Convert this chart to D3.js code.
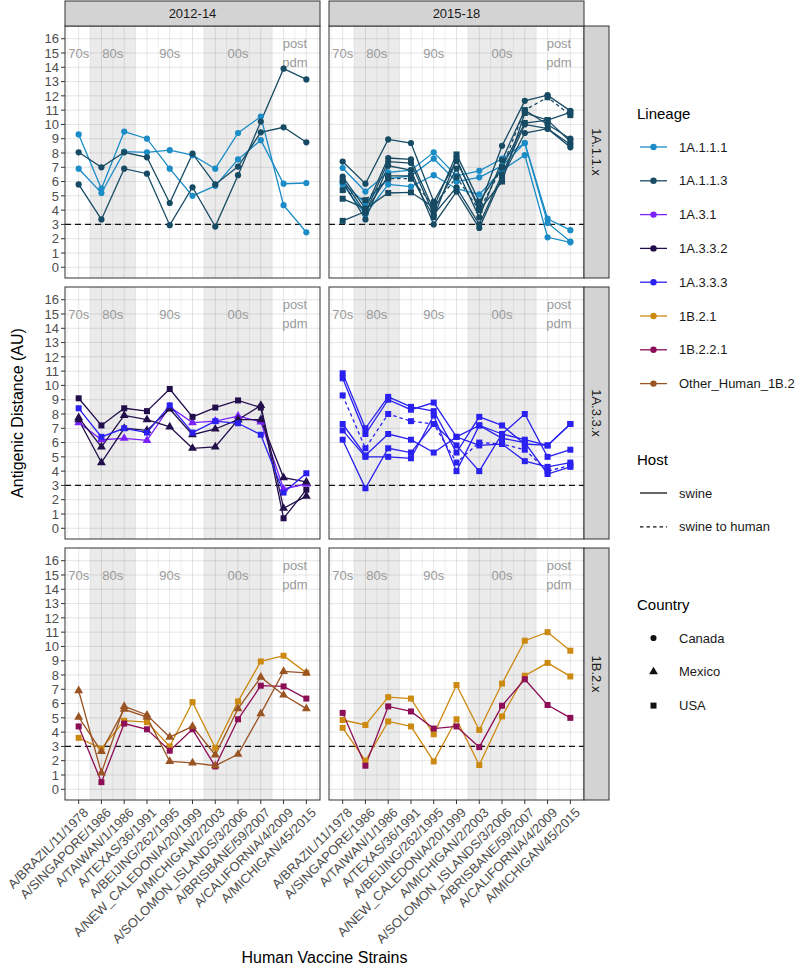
<!DOCTYPE html>
<html>
<head>
<meta charset="utf-8">
<script src="https://cdn.jsdelivr.net/npm/d3@7"></script>
<style>
  body { margin: 0; background: #fff; }
  svg { font-family: "Liberation Sans", Arial, sans-serif; }
</style>
</head>
<body>
<div id="chart"></div>
<script>
// Categories (x axis)
const strains = ["A/BRAZIL/11/1978", "A/SINGAPORE/1986", "A/TAIWAN/1/1986", "A/TEXAS/36/1991",
  "A/BEIJING/262/1995", "A/NEW_CALEDONIA/20/1999", "A/MICHIGAN/2/2003", "A/SOLOMON_ISLANDS/3/2006",
  "A/BRISBANE/59/2007", "A/CALIFORNIA/4/2009", "A/MICHIGAN/45/2015"];
const periods = ["2012-14", "2015-18"];
const clades = ["1A.1.1.x", "1A.3.3.x", "1B.2.x"];
const yTicks = d3.range(0, 17);

// decade labels: position in category index units
const decadeLabels = ["70s", "80s", "90s", "00s", "post\npdm"];
const decadePos = [0, 1.5, 4, 7, 9.5];
// shaded decade bands (index units)
const bandStart = [0.5, 5.5];
const bandEnd = [2.5, 8.5];

const lineages = ["1A.1.1.1", "1A.1.1.3", "1A.3.1", "1A.3.3.2", "1A.3.3.3", "1B.2.1", "1B.2.2.1", "Other_Human_1B.2"];
const lineageColors = ["#1b8cc6", "#174b64", "#7b22fb", "#220e4b", "#2a20f0", "#cc8a12", "#8c0e56", "#9a5424"];
const hosts = ["swine", "swine to human"];
const countries = ["Canada", "Mexico", "USA"];

// 2012-14, 1A.1.1.x
const a_111_can1 = [9.3, 5.5, 9.5, 9.0, 6.9, 5.0, 5.7, 7.55, 8.9, 5.85, 5.9];
const a_111_can2 = [6.9, 5.2, 8.1, 8.05, 8.2, 7.85, 6.9, 9.4, 10.55, 4.35, 2.45];
const a_113_can1 = [8.05, 7.0, 8.05, 7.7, 4.5, 7.95, 5.8, 7.05, 9.45, 9.8, 8.75];
const a_113_can2 = [5.8, 3.35, 6.9, 6.55, 2.95, 5.6, 2.85, 6.45, 10.2, 13.9, 13.15];
// 2015-18, 1A.1.1.x
const b_111_can1 = [6.95, 5.3, 6.65, 6.8, 8.05, 6.4, 6.75, 7.6, 8.7, 3.4, 2.6];
const b_111_can2 = [5.9, 4.5, 6.2, 6.4, 7.6, 6.0, 6.3, 7.1, 8.7, 3.1, 1.8];
const b_111_can3 = [5.8, 3.7, 5.8, 5.65, 6.45, 5.5, 5.1, 6.8, 7.85, 2.1, 1.75];
const b_113_can1 = [7.4, 5.85, 8.95, 8.7, 4.6, 7.45, 4.2, 8.5, 11.65, 12.05, 10.95];
const b_113_can2 = [6.35, 4.1, 7.65, 7.55, 4.0, 6.9, 3.5, 7.5, 11.0, 10.0, 9.0];
const b_113_can3 = [6.15, 3.8, 7.4, 7.3, 3.7, 5.6, 3.0, 6.5, 10.0, 9.7, 8.6];
const b_113_can4 = [6.0, 3.35, 7.1, 6.8, 3.0, 5.3, 2.75, 6.3, 9.4, 9.7, 8.4];
const b_113_usa1 = [4.8, 4.1, 5.2, 5.25, 4.2, 7.9, 4.6, 7.0, 10.1, 10.3, 8.8];
const b_113_usa2 = [3.25, 3.9, 6.4, 6.4, 3.5, 7.6, 4.0, 6.0, 10.8, 10.3, 10.85];
const b_113_usa_h = [5.4, 4.7, 6.2, 6.2, 4.3, 6.3, 4.0, 7.0, 11.0, 11.9, 10.65];
// 2012-14, 1A.3.3.x
const c_31_mex = [7.4, 6.2, 6.3, 6.15, 8.5, 7.4, 7.5, 7.85, 7.45, 2.75, 3.1];
const c_332_usa = [9.1, 7.2, 8.4, 8.2, 9.75, 7.8, 8.45, 8.95, 8.45, 0.7, 2.7];
const c_332_mex1 = [7.75, 5.7, 7.9, 7.6, 7.1, 5.6, 5.7, 7.6, 8.6, 1.4, 2.25];
const c_332_mex2 = [7.6, 4.6, 7.0, 6.85, 8.35, 6.55, 6.95, 7.6, 7.6, 3.55, 3.25];
const c_333_usa = [8.4, 6.4, 7.0, 6.7, 8.6, 6.7, 7.5, 7.35, 6.55, 2.5, 3.85];
// 2015-18, 1A.3.3.x
const d_333_usa1 = [10.85, 7.0, 9.2, 8.5, 8.2, 5.3, 7.8, 7.2, 5.9, 5.8, 7.3];
const d_333_usa2 = [10.5, 6.6, 9.0, 8.3, 8.8, 6.4, 7.2, 6.6, 6.2, 5.8, 7.3];
const d_333_usa_h = [9.3, 5.6, 8.0, 7.5, 7.3, 4.6, 6.0, 5.9, 5.5, 4.0, 4.4];
const d_333_usa3 = [7.3, 5.1, 6.6, 6.2, 5.3, 6.4, 5.8, 5.9, 4.7, 4.3, 4.6];
const d_333_usa4 = [6.85, 5.0, 5.0, 4.9, 7.9, 4.0, 7.2, 6.3, 6.0, 3.8, 4.3];
const d_333_usa5 = [6.2, 2.8, 5.6, 5.3, 7.3, 5.8, 4.0, 6.6, 8.0, 5.0, 5.5];
// 2012-14, 1B.2.x
const e_21_usa = [3.6, 2.85, 4.8, 4.7, 3.0, 6.1, 2.9, 6.15, 8.95, 9.35, 8.15];
const e_221_usa = [4.4, 0.5, 4.6, 4.2, 2.7, 4.2, 1.6, 4.9, 7.25, 7.2, 6.35];
const e_oth_mex1 = [6.9, 1.15, 5.8, 5.2, 3.65, 4.4, 2.4, 5.65, 7.85, 6.6, 5.65];
const e_oth_mex2 = [5.05, 2.65, 5.6, 5.05, 1.95, 1.85, 1.65, 2.45, 5.3, 8.25, 8.15];
// 2015-18, 1B.2.x
const f_21_usa1 = [4.85, 4.5, 6.45, 6.35, 3.85, 7.3, 4.15, 7.4, 10.4, 11.0, 9.7];
const f_21_usa2 = [4.3, 2.0, 4.75, 4.4, 1.95, 4.9, 1.7, 5.1, 7.95, 8.85, 7.9];
const f_221_usa = [5.35, 1.65, 5.8, 5.45, 4.25, 4.4, 2.95, 5.85, 7.7, 5.9, 5.0];

// [period, clade, lineage, host, country, values]
const series = [
  [0, 0, "1A.1.1.1", "swine", "Canada", a_111_can1],
  [0, 0, "1A.1.1.1", "swine", "Canada", a_111_can2],
  [0, 0, "1A.1.1.3", "swine", "Canada", a_113_can1],
  [0, 0, "1A.1.1.3", "swine", "Canada", a_113_can2],
  [1, 0, "1A.1.1.1", "swine", "Canada", b_111_can1],
  [1, 0, "1A.1.1.1", "swine", "Canada", b_111_can2],
  [1, 0, "1A.1.1.1", "swine", "Canada", b_111_can3],
  [1, 0, "1A.1.1.3", "swine", "Canada", b_113_can1],
  [1, 0, "1A.1.1.3", "swine", "Canada", b_113_can2],
  [1, 0, "1A.1.1.3", "swine", "Canada", b_113_can3],
  [1, 0, "1A.1.1.3", "swine", "Canada", b_113_can4],
  [1, 0, "1A.1.1.3", "swine", "USA", b_113_usa1],
  [1, 0, "1A.1.1.3", "swine", "USA", b_113_usa2],
  [1, 0, "1A.1.1.3", "swine to human", "USA", b_113_usa_h],
  [0, 1, "1A.3.1", "swine", "Mexico", c_31_mex],
  [0, 1, "1A.3.3.2", "swine", "USA", c_332_usa],
  [0, 1, "1A.3.3.2", "swine", "Mexico", c_332_mex1],
  [0, 1, "1A.3.3.2", "swine", "Mexico", c_332_mex2],
  [0, 1, "1A.3.3.3", "swine", "USA", c_333_usa],
  [1, 1, "1A.3.3.3", "swine", "USA", d_333_usa1],
  [1, 1, "1A.3.3.3", "swine", "USA", d_333_usa2],
  [1, 1, "1A.3.3.3", "swine to human", "USA", d_333_usa_h],
  [1, 1, "1A.3.3.3", "swine", "USA", d_333_usa3],
  [1, 1, "1A.3.3.3", "swine", "USA", d_333_usa4],
  [1, 1, "1A.3.3.3", "swine", "USA", d_333_usa5],
  [0, 2, "1B.2.1", "swine", "USA", e_21_usa],
  [0, 2, "1B.2.2.1", "swine", "USA", e_221_usa],
  [0, 2, "Other_Human_1B.2", "swine", "Mexico", e_oth_mex1],
  [0, 2, "Other_Human_1B.2", "swine", "Mexico", e_oth_mex2],
  [1, 2, "1B.2.1", "swine", "USA", f_21_usa1],
  [1, 2, "1B.2.1", "swine", "USA", f_21_usa2],
  [1, 2, "1B.2.2.1", "swine", "USA", f_221_usa],
];

// Layout
const svgWidth = 800, svgHeight = 973;
const colX = [[65, 320], [329, 584]];
const rowY = [[26, 278], [287, 539], [548, 800]];
const stripH = 25, stripW = 25;

const svg = d3.select("#chart").append("svg")
  .attr("width", svgWidth).attr("height", svgHeight);

const color = d3.scaleOrdinal().domain(lineages).range(lineageColors);
const shape = d3.scaleOrdinal().domain(countries)
  .range([d3.symbolCircle, d3.symbolTriangle, d3.symbolSquare]);
const shapeSize = { Canada: 30, Mexico: 34, USA: 36 };
const dash = d3.scaleOrdinal().domain(hosts).range(["none", "3.5,3"]);

const lineGen = d3.line();

periods.forEach((p, pi) => {
  const x = d3.scalePoint().domain(strains).range(colX[pi]).padding(0.6);
  const step = x.step();
  const xi = i => x(strains[0]) + i * step;

  clades.forEach((c, ci) => {
    const y = d3.scaleLinear().domain([-0.75, 16.89]).range([rowY[ci][1], rowY[ci][0]]);
    const g = svg.append("g");
    const [x0, x1] = colX[pi];
    const [y0, y1] = rowY[ci];

    g.append("rect").attr("x", x0).attr("y", y0).attr("width", x1 - x0).attr("height", y1 - y0)
      .attr("fill", "#fff");

    // decade bands
    bandStart.forEach((b, k) => {
      g.append("rect")
        .attr("x", xi(b)).attr("y", y0)
        .attr("width", xi(bandEnd[k]) - xi(b)).attr("height", y1 - y0)
        .attr("fill", "#ebebeb");
    });

    // grid
    const grid = g.append("g").attr("stroke", "rgba(0,0,0,0.1)").attr("stroke-width", 1);
    d3.range(-0.5, strains.length, 0.5).forEach(v => {
      const px = xi(v);
      if (px <= x0 || px >= x1) return;
      grid.append("line").attr("x1", px).attr("x2", px).attr("y1", y0).attr("y2", y1)
        .attr("stroke-width", Number.isInteger(v) ? 1 : 0.6);
    });
    yTicks.forEach(t => {
      grid.append("line").attr("x1", x0).attr("x2", x1).attr("y1", y(t)).attr("y2", y(t));
    });

    // decade labels
    decadeLabels.forEach((lab, k) => {
      const parts = lab.split("\n");
      const t = g.append("text")
        .attr("x", xi(decadePos[k])).attr("text-anchor", "middle")
        .attr("font-size", 13).attr("fill", "#9a9a9a");
      if (parts.length === 1) {
        t.attr("y", y(15)).attr("dy", "0.36em").text(lab);
      } else {
        parts.forEach((s, j) => {
          t.append("tspan").attr("x", xi(decadePos[k]))
            .attr("y", y(15) + (j - 0.5) * 19).attr("dy", "0.36em").text(s);
        });
      }
    });

    // threshold
    g.append("line").attr("x1", x0).attr("x2", x1).attr("y1", y(3)).attr("y2", y(3))
      .attr("stroke", "#111").attr("stroke-width", 1.3).attr("stroke-dasharray", "6,4");

    // series
    const panelSeries = series.filter(s => s[0] === pi && s[1] === ci);
    panelSeries.forEach(s => {
      const pts = s[5].map((v, i) => [x(strains[i]), y(v)]);
      g.append("path").attr("d", lineGen(pts))
        .attr("fill", "none").attr("stroke", color(s[2])).attr("stroke-width", 1.3)
        .attr("stroke-dasharray", dash(s[3]));
    });
    panelSeries.forEach(s => {
      g.selectAll(null).data(s[5]).enter().append("path")
        .attr("transform", (v, i) => `translate(${x(strains[i])},${y(v)})`)
        .attr("d", d3.symbol().type(shape(s[4])).size(shapeSize[s[4]]))
        .attr("fill", color(s[2]));
    });

    // border
    g.append("rect").attr("x", x0).attr("y", y0).attr("width", x1 - x0).attr("height", y1 - y0)
      .attr("fill", "none").attr("stroke", "#333").attr("stroke-width", 1);

    // y axis on left column
    if (pi === 0) {
      yTicks.forEach(t => {
        g.append("line").attr("x1", x0 - 4).attr("x2", x0).attr("y1", y(t)).attr("y2", y(t))
          .attr("stroke", "#333");
        g.append("text").attr("x", x0 - 6).attr("y", y(t)).attr("dy", "0.36em")
          .attr("text-anchor", "end").attr("font-size", 13).attr("fill", "#4d4d4d").text(t);
      });
    }
    // x axis on bottom row
    if (ci === clades.length - 1) {
      strains.forEach(st => {
        g.append("line").attr("x1", x(st)).attr("x2", x(st)).attr("y1", y1).attr("y2", y1 + 4)
          .attr("stroke", "#333");
        g.append("text")
          .attr("transform", `translate(${x(st) + 4},${y1 + 7}) rotate(-45)`)
          .attr("text-anchor", "end").attr("dy", "0.7em")
          .attr("font-size", 13).attr("fill", "#4d4d4d").text(st);
      });
    }
    // right strips
    if (pi === periods.length - 1) {
      g.append("rect").attr("x", x1).attr("y", y0).attr("width", stripW).attr("height", y1 - y0)
        .attr("fill", "#d3d3d3").attr("stroke", "#333");
      g.append("text")
        .attr("transform", `translate(${x1 + stripW / 2},${(y0 + y1) / 2}) rotate(90)`)
        .attr("text-anchor", "middle").attr("dy", "0.36em")
        .attr("font-size", 13).attr("fill", "#1a1a1a").text(c);
    }
  });

  // top strip
  svg.append("rect").attr("x", colX[pi][0]).attr("y", rowY[0][0] - stripH)
    .attr("width", colX[pi][1] - colX[pi][0]).attr("height", stripH)
    .attr("fill", "#d3d3d3").attr("stroke", "#333");
  svg.append("text").attr("x", (colX[pi][0] + colX[pi][1]) / 2).attr("y", rowY[0][0] - stripH / 2)
    .attr("dy", "0.36em").attr("text-anchor", "middle")
    .attr("font-size", 13).attr("fill", "#1a1a1a").text(p);
});

// axis titles
svg.append("text")
  .attr("transform", `translate(17,${(rowY[0][0] + rowY[2][1]) / 2}) rotate(-90)`)
  .attr("text-anchor", "middle").attr("dy", "0.36em").attr("font-size", 16).text("Antigenic Distance (AU)");
svg.append("text")
  .attr("x", (colX[0][0] + colX[1][1]) / 2).attr("y", 957).attr("dy", "0.36em")
  .attr("text-anchor", "middle").attr("font-size", 16).text("Human Vaccine Strains");

// legends
const legX = 637, keyX0 = 640, keyX1 = 667, labX = 679;
const legend = svg.append("g");
function legTitle(txt, yy) {
  legend.append("text").attr("x", legX).attr("y", yy).attr("dy", "0.36em")
    .attr("font-size", 15).text(txt);
}
function legLabel(txt, yy) {
  legend.append("text").attr("x", labX).attr("y", yy).attr("dy", "0.36em")
    .attr("font-size", 13).attr("fill", "#1a1a1a").text(txt);
}
legTitle("Lineage", 114);
lineages.forEach((l, i) => {
  const yy = 147 + i * 33.8;
  legend.append("line").attr("x1", keyX0).attr("x2", keyX1).attr("y1", yy).attr("y2", yy)
    .attr("stroke", color(l)).attr("stroke-width", 1.3);
  legend.append("circle").attr("cx", (keyX0 + keyX1) / 2).attr("cy", yy).attr("r", 3.2).attr("fill", color(l));
  legLabel(l, yy);
});
legTitle("Host", 460);
hosts.forEach((h, i) => {
  const yy = 493 + i * 33.8;
  legend.append("line").attr("x1", keyX0).attr("x2", keyX1).attr("y1", yy).attr("y2", yy)
    .attr("stroke", "#111").attr("stroke-width", 1.3).attr("stroke-dasharray", dash(h));
  legLabel(h, yy);
});
legTitle("Country", 605);
countries.forEach((ct, i) => {
  const yy = 638 + i * 33.8;
  legend.append("path").attr("transform", `translate(${(keyX0 + keyX1) / 2},${yy})`)
    .attr("d", d3.symbol().type(shape(ct)).size(shapeSize[ct])).attr("fill", "#111");
  legLabel(ct, yy);
});
</script>
</body>
</html>
